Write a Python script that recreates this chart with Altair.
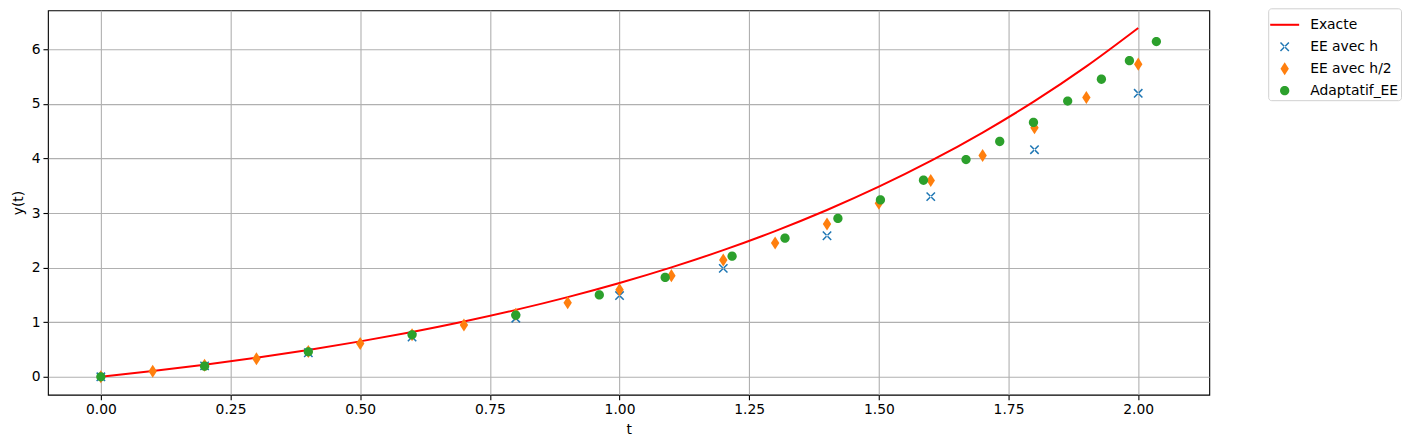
import altair as alt
import pandas as pd

# ---- data ----
t_exact = [0.0, 0.1, 0.2, 0.3, 0.4, 0.5, 0.6, 0.7, 0.8, 0.9, 1.0,
           1.1, 1.2, 1.3, 1.4, 1.5, 1.6, 1.7, 1.8, 1.9, 2.0]
y_exact = [0.0, 0.1052, 0.2214, 0.3499, 0.4918, 0.6487, 0.8221, 1.0138, 1.2255, 1.4596, 1.7183,
           2.0042, 2.3201, 2.6693, 3.0552, 3.4817, 3.9530, 4.4739, 5.0496, 5.6859, 6.3891]

t_h = [0.0, 0.2, 0.4, 0.6, 0.8, 1.0, 1.2, 1.4, 1.6, 1.8, 2.0]
y_h = [0.0, 0.2, 0.44, 0.728, 1.074, 1.488, 1.986, 2.583, 3.300, 4.160, 5.192]

t_h2 = [0.0, 0.1, 0.2, 0.3, 0.4, 0.5, 0.6, 0.7, 0.8, 0.9, 1.0,
        1.1, 1.2, 1.3, 1.4, 1.5, 1.6, 1.7, 1.8, 1.9, 2.0]
y_h2 = [0.0, 0.1, 0.21, 0.331, 0.464, 0.611, 0.772, 0.949, 1.144, 1.358, 1.594,
        1.853, 2.138, 2.452, 2.797, 3.177, 3.595, 4.054, 4.560, 5.116, 5.727]

t_ad = [0.0, 0.2, 0.4, 0.6, 0.8, 0.961, 1.088, 1.217, 1.319, 1.421, 1.503,
        1.586, 1.668, 1.733, 1.798, 1.864, 1.929, 1.983, 2.035]
y_ad = [0.0, 0.195, 0.457, 0.768, 1.128, 1.50, 1.82, 2.21, 2.54, 2.90, 3.24,
        3.60, 3.98, 4.31, 4.66, 5.05, 5.45, 5.79, 6.14]

series_names = ["Exacte", "EE avec h", "EE avec h/2", "Adaptatif_EE"]
series_colors = ["#ff0000", "#1f77b4", "#ff7f0e", "#2ca02c"]
x_ticks = [0.0, 0.25, 0.5, 0.75, 1.0, 1.25, 1.5, 1.75, 2.0]
y_ticks = [0, 1, 2, 3, 4, 5, 6]

# ---- marker shapes (unit coords, symbol size 841 -> r = 14.5px) ----
LINE = "M-1,-0.07L1,-0.07L1,0.07L-1,0.07Z"
XMARK = ("M-0.253,-0.327L0.327,0.253L0.253,0.327L-0.327,-0.253Z"
         "M0.253,-0.327L-0.327,0.253L-0.253,0.327L0.327,-0.253Z")
DIAMOND = "M0,-0.45L0.29,0L0,0.45L-0.29,0Z"
CIRCLE = "M0.32,0A0.32,0.32 0 1,1 -0.32,0A0.32,0.32 0 1,1 0.32,0Z"
shape_range = [LINE, XMARK, DIAMOND, CIRCLE]

df_exact = pd.DataFrame({"t": t_exact, "y": y_exact})
df_h = pd.DataFrame({"t": t_h, "y": y_h, "series": "EE avec h"})
df_h2 = pd.DataFrame({"t": t_h2, "y": y_h2, "series": "EE avec h/2"})
df_ad = pd.DataFrame({"t": t_ad, "y": y_ad, "series": "Adaptatif_EE"})

xs = alt.Scale(domain=[-0.102, 2.137], nice=False, zero=False)
ys = alt.Scale(domain=[-0.329, 6.713], nice=False, zero=False)

X = alt.X("t:Q", scale=xs, title="t",
          axis=alt.Axis(values=x_ticks, format=".2f"))
Y = alt.Y("y:Q", scale=ys, title="y(t)",
          axis=alt.Axis(values=y_ticks, format="d"))

color_enc = alt.Color("series:N",
                      scale=alt.Scale(domain=series_names, range=series_colors),
                      legend=alt.Legend(title=None))
shape_enc = alt.Shape("series:N",
                      scale=alt.Scale(domain=series_names, range=shape_range),
                      legend=alt.Legend(title=None))

line = alt.Chart(df_exact).mark_line(color="#ff0000", strokeWidth=2,
                                     interpolate="monotone").encode(x=X, y=Y)

def pts(df):
    return alt.Chart(df).mark_point(filled=True, size=841, opacity=1, strokeWidth=0).encode(
        x=X, y=Y, color=color_enc, shape=shape_enc)

chart = alt.layer(line, pts(df_h), pts(df_h2), pts(df_ad)).properties(
    width=1163, height=385,
    autosize=alt.AutoSizeParams(type="none"),
    padding={"left": 40, "top": 2, "right": 200, "bottom": 45},
).configure_view(
    stroke="black", strokeWidth=1.1
).configure_axis(
    labelFont="DejaVu Sans", labelFontSize=13.9, labelColor="black",
    titleFont="DejaVu Sans", titleFontSize=13.9, titleFontWeight="normal", titleColor="black",
    tickColor="black", tickSize=5, tickWidth=1.1,
    labelPadding=3, titlePadding=6,
    grid=True, gridColor="#b0b0b0", gridWidth=1.1,
    domain=False,
).configure_legend(
    orient="none", legendX=1222, legendY=-2,
    labelFont="DejaVu Sans", labelFontSize=13.9, labelColor="black",
    symbolSize=841, symbolStrokeWidth=0,
    strokeColor="#d0d0d0", fillColor="white", cornerRadius=3,
    padding=2, labelOffset=11, rowPadding=0,
)

chart.save("out.html", embed_options={"renderer": "svg", "actions": False})
